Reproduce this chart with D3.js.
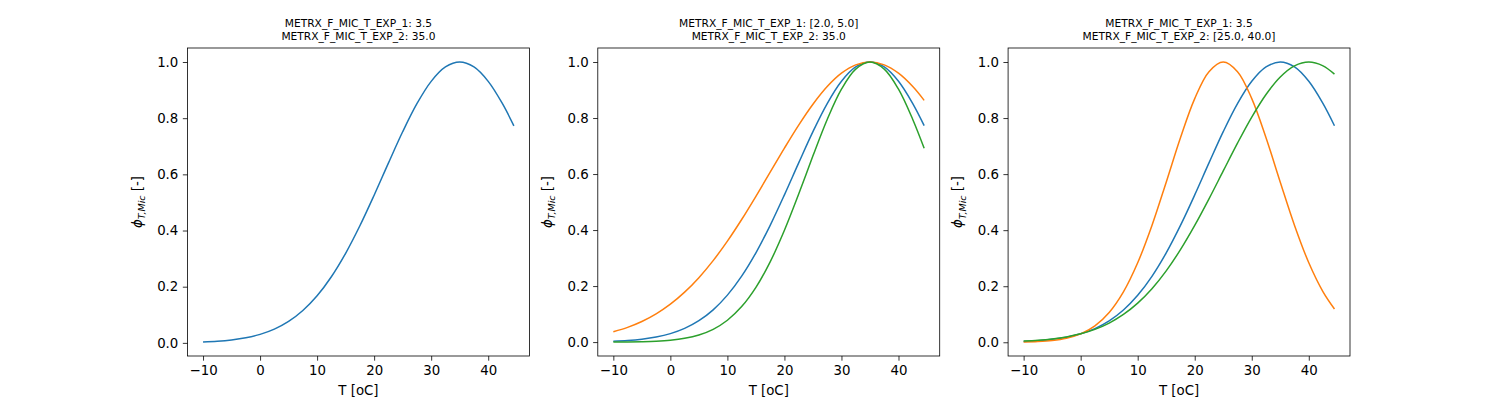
<!DOCTYPE html>
<html>
<head>
<meta charset="utf-8">
<script src="https://cdn.jsdelivr.net/npm/d3@7"></script>
<style>
  html, body { margin: 0; padding: 0; background: #fff; }
  svg { display: block; font-family: "DejaVu Sans", sans-serif; }
</style>
</head>
<body>
<svg id="chart" width="1500" height="400"></svg>
<script>
// Temperature values (x)
const temps = [-10, -7.5, -5, -2.5, 0, 2.5, 5, 7.5, 10, 12.5, 15, 17.5, 20, 22.5, 25, 27.5, 30, 32.5, 35, 37.5, 40, 42.5, 44.5];

// exp1 = 3.5, exp2 = 35
const phiA = [0.0031, 0.0057, 0.0104, 0.0180, 0.0302, 0.0489, 0.0764, 0.1152, 0.1677, 0.2354, 0.3189, 0.4169, 0.5258, 0.6399, 0.7515, 0.8515, 0.9311, 0.9823, 1.0, 0.9823, 0.9311, 0.8515, 0.7727];
// exp1 = 2.0, exp2 = 35
const phiB = [0.0367, 0.0524, 0.0734, 0.1007, 0.1353, 0.1783, 0.2301, 0.2909, 0.3604, 0.4376, 0.5205, 0.6065, 0.6926, 0.7748, 0.8493, 0.9123, 0.9600, 0.9898, 1.0, 0.9898, 0.9600, 0.9123, 0.8630];
// exp1 = 5.0, exp2 = 35
const phiC = [0.0003, 0.0006, 0.0015, 0.0032, 0.0067, 0.0134, 0.0254, 0.0456, 0.0780, 0.1267, 0.1954, 0.2865, 0.3992, 0.5285, 0.6649, 0.7949, 0.9030, 0.9748, 1.0, 0.9748, 0.9030, 0.7949, 0.6918];
// exp1 = 3.5, exp2 = 25
const phiD = [0.0010, 0.0027, 0.0065, 0.0145, 0.0302, 0.0587, 0.1065, 0.1800, 0.2837, 0.4169, 0.5712, 0.7298, 0.8694, 0.9656, 1.0, 0.9656, 0.8694, 0.7298, 0.5712, 0.4169, 0.2837, 0.1800, 0.1189];
// exp1 = 3.5, exp2 = 40
const phiE = [0.0042, 0.0072, 0.0119, 0.0192, 0.0302, 0.0461, 0.0686, 0.0992, 0.1396, 0.1912, 0.2548, 0.3305, 0.4169, 0.5117, 0.6113, 0.7105, 0.8035, 0.8842, 0.9468, 0.9864, 1.0, 0.9864, 0.9567];

const titles = [
  ["METRX_F_MIC_T_EXP_1: 3.5", "METRX_F_MIC_T_EXP_2: 35.0"],
  ["METRX_F_MIC_T_EXP_1: [2.0, 5.0]", "METRX_F_MIC_T_EXP_2: 35.0"],
  ["METRX_F_MIC_T_EXP_1: 3.5", "METRX_F_MIC_T_EXP_2: [25.0, 40.0]"]
];
const xTicks = [-10, 0, 10, 20, 30, 40];
const yTicks = [0.0, 0.2, 0.4, 0.6, 0.8, 1.0];
const xLabel = "T [oC]";

const colors = { blue: "#1f77b4", orange: "#ff7f0e", green: "#2ca02c" };
const panels = [
  [{ v: phiA, c: colors.blue }],
  [{ v: phiA, c: colors.blue }, { v: phiB, c: colors.orange }, { v: phiC, c: colors.green }],
  [{ v: phiA, c: colors.blue }, { v: phiD, c: colors.orange }, { v: phiE, c: colors.green }]
];

const svg = d3.select("#chart");
const W = 1500, H = 400;
const mLeft = 0.125 * W, mRight = 0.9 * W, mTop = H * (1 - 0.88), mBottom = H * (1 - 0.11);
const axW = (mRight - mLeft) / 3.4;
const gap = axW * 0.2;

const xMin = d3.min(temps), xMax = d3.max(temps);
const xPad = (xMax - xMin) * 0.05;

panels.forEach((series, i) => {
  const x0 = mLeft + i * (axW + gap);
  const g = svg.append("g");
  const x = d3.scaleLinear().domain([xMin - xPad, xMax + xPad]).range([x0, x0 + axW]);
  const allV = series.flatMap(s => s.v);
  const yLo = d3.min(allV), yHi = d3.max(allV);
  const yPad = (yHi - yLo) * 0.05;
  const y = d3.scaleLinear().domain([yLo - yPad, yHi + yPad]).range([mBottom, mTop]);

  const line = d3.line().x((d, k) => x(temps[k])).y(d => y(d)).curve(d3.curveCatmullRom.alpha(0.5));
  series.forEach(s => {
    g.append("path").datum(s.v).attr("d", line)
      .attr("fill", "none").attr("stroke", s.c).attr("stroke-width", 1.5);
  });

  // frame
  g.append("rect").attr("x", x0).attr("y", mTop).attr("width", axW).attr("height", mBottom - mTop)
    .attr("fill", "none").attr("stroke", "#000").attr("stroke-width", 0.8);

  const xa = g.append("g").attr("transform", `translate(0,${mBottom})`)
    .call(d3.axisBottom(x).tickValues(xTicks).tickSize(4.67).tickPadding(4.5).tickFormat(d => d < 0 ? "\u2212" + Math.abs(d) : d));
  const ya = g.append("g").attr("transform", `translate(${x0},0)`)
    .call(d3.axisLeft(y).tickValues(yTicks).tickSize(4.67).tickPadding(4.5).tickFormat(d3.format(".1f")));
  [xa, ya].forEach(a => {
    a.select(".domain").remove();
    a.selectAll("line").attr("stroke", "#000").attr("stroke-width", 0.8);
    a.selectAll("text").attr("fill", "#000").style("font-size", "13.33px").style("font-family", "DejaVu Sans");
  });

  // x label
  g.append("text").attr("x", x0 + axW / 2).attr("y", mBottom + 39).attr("text-anchor", "middle")
    .style("font-size", "13.33px").text(xLabel);

  // y label
  const yl = g.append("text").attr("transform", `translate(${x0 - 46},${(mTop + mBottom) / 2}) rotate(-90)`)
    .attr("text-anchor", "middle").style("font-size", "13.33px");
  yl.append("tspan").style("font-style", "italic").text("\u03d5");
  yl.append("tspan").attr("dy", 3.5).style("font-size", "9.5px").style("font-style", "italic").text("T,Mic");
  yl.append("tspan").attr("dy", -3.5).text(" [-]");

  // title
  titles[i].forEach((t, k) => {
    g.append("text").attr("x", x0 + axW / 2).attr("y", mTop - 21 + k * 13).attr("text-anchor", "middle")
      .style("font-size", "10.67px").text(t);
  });
});
</script>
</body>
</html>
